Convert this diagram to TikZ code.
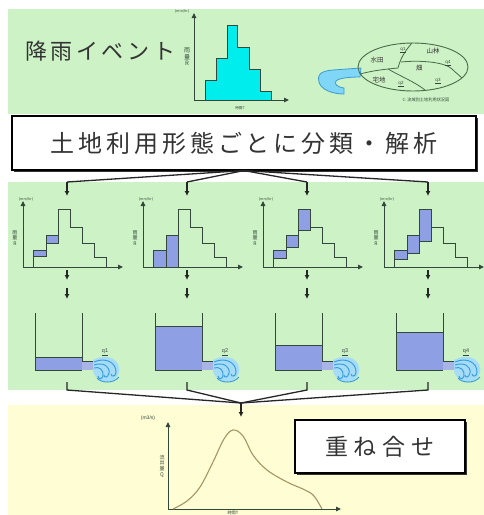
\documentclass[tikz,border=0pt]{standalone}
\usepackage{fontspec}
\setmainfont{Liberation Sans}
\newfontfamily\jp{Noto Sans CJK JP}
\usetikzlibrary{arrows.meta,shadows}

\definecolor{greenbg}{HTML}{CDF2C6}
\definecolor{yellowbg}{HTML}{FFFDD3}
\definecolor{rainfill}{HTML}{00EDED}
\definecolor{inkline}{HTML}{33483A}
\definecolor{waterfill}{HTML}{8E9FE4}
\definecolor{pipefill}{HTML}{A8B4E6}
\definecolor{spraycol}{HTML}{3A9FE0}
\definecolor{spraylight}{HTML}{A6DCF5}
\definecolor{riverfill}{HTML}{7FD6F6}
\definecolor{riverline}{HTML}{3C9CCF}
\definecolor{flowcurve}{HTML}{A49566}
\definecolor{mapline}{HTML}{4A6A4A}

\tikzset{
  axisline/.style={line width=1pt, draw=inkline, -{Triangle[length=5pt,width=4.5pt]}},
  stepline/.style={line width=1pt, draw=inkline},
  slice/.style={draw=inkline, line width=0.8pt, fill=waterfill},
  tankline/.style={draw=inkline, line width=1pt},
  spray/.style={draw=spraycol, line width=1pt},
  conn/.style={draw=black!85, line width=1.3pt},
  connarrow/.style={conn, -{Latex[length=5pt,width=5pt]}},
  bigbox/.style={draw=black, line width=1.1pt, fill=white, inner sep=0pt,
    drop shadow={shadow xshift=1.6pt, shadow yshift=-1.6pt, opacity=1, fill=black!80}},
  tinylabel/.style={font=\jp\fontsize{3.6}{4}\selectfont, text=inkline, inner sep=0pt},
  axlabel/.style={font=\jp\fontsize{5}{5.6}\selectfont, text=inkline, inner sep=0pt, align=center},
  maplabel/.style={font=\jp\fontsize{6.5}{7}\selectfont, text=black!80, inner sep=0pt},
  qlabel/.style={font=\fontsize{5.5}{6}\selectfont, text=inkline, inner sep=0pt},
}

% axes, step outline and labels of a small rainfall chart (local coordinates)
\newcommand\hyetframe{%
  \draw[axisline] (-44,267) -- (56,267);
  \draw[axisline] (-44,267) -- (-44,201);
  \draw[stepline] (-34,267) |- (-21,250) |- (-9,235) |- (3,209) |- (15,227) |- (27,243) |- (39,257) -- (39,267);
  \node[tinylabel] at (-41,199) {(mm/hr)};
  \node[axlabel] at (-52,238) {雨\\量\\R};
}

% storage tank with outlet pipe and spray (local coordinates)
\newcommand\tankdraw[2]{%
  \fill[pipefill] (15,361) rectangle (27,370);
  \fill[waterfill] (-32,#1) rectangle (15,370);
  \draw[tankline] (-32,#1) -- (15,#1);
  \draw[tankline] (-32,313) -- (-32,370) -- (15,370);
  \draw[tankline] (15,313) -- (15,361) -- (27,361);
  \fill[spraylight] (26,360) .. controls (37,354) and (50,357) .. (52,367)
     .. controls (54,377) and (45,383) .. (36,381) .. controls (29,379) and (26,374) .. (26,370) -- cycle;
  \draw[spray] (27,362) .. controls (38,357) and (49,362) .. (49,372) .. controls (49,377) and (44,377) .. (44,374);
  \draw[spray] (27,365) .. controls (36,362) and (43,366) .. (42,373) .. controls (41,378) and (37,378) .. (37,375);
  \draw[spray] (27,368) .. controls (32,366) and (37,370) .. (36,376) .. controls (35,380) and (31,379) .. (31,376);
  \draw[spray] (30,378) .. controls (34,383) and (46,384) .. (52,377);
  \node[qlabel] at (38,352) {\underline{#2}};
}

\begin{document}
\begin{tikzpicture}[x=1pt,y=-1pt]
\useasboundingbox (0,0) rectangle (484,515);
\fill[white] (0,0) rectangle (484,515);

% background panels
\fill[greenbg] (8,9) rectangle (484,114);
\fill[greenbg] (8,182) rectangle (484,390);
\fill[yellowbg] (8,405) rectangle (484,515);

% ---------- rainfall event ----------
\node[anchor=west, inner sep=0pt, font=\jp\fontsize{22}{22}\selectfont, text=black!80] (event) at (25,51)
  {降\kern3.6pt 雨\kern3.6pt イ\kern3.6pt ベ\kern3.6pt ン\kern3.6pt ト};

\fill[rainfill, draw=inkline, line width=1pt]
  (205,100) |- (216,80) |- (227,58) |- (237,25) |- (249,47) |- (260,69) |- (271,91) -- (271,100) -- cycle;
\draw[axisline] (194,100) -- (289,100);
\draw[axisline] (194,100) -- (194,13);
\node[tinylabel] at (182,11) {(mm/hr)};
\node[axlabel, font=\jp\fontsize{6}{6.6}\selectfont] at (187,57) {雨\\量\\R};
\node[tinylabel] at (240,108) {時間T};

% watershed sketch: river and land-use zones
\filldraw[fill=riverfill, draw=riverline, line width=0.8pt]
  (361,68) -- (333,70) .. controls (319,71) and (317,76) .. (319,82)
  .. controls (321,90) and (333,94) .. (344,94) -- (344,88)
  .. controls (337,87) and (334,84) .. (336,81) .. controls (339,78) and (350,77) .. (360,77) -- cycle;
\draw[mapline, line width=0.9pt] (413,67) ellipse [x radius=55, y radius=24];
\draw[mapline, line width=0.8pt] (360,74) .. controls (375,70) and (388,69) .. (398,68);
\draw[mapline, line width=0.8pt] (412,43) .. controls (404,52) and (400,60) .. (398,68);
\draw[mapline, line width=0.8pt] (401,62) .. controls (420,60) and (445,62) .. (452,69) .. controls (456,73) and (459,75) .. (462,78);
\draw[mapline, line width=0.8pt] (388,69) .. controls (400,76) and (415,82) .. (425,90);
\node[maplabel] at (377,60) {水田};
\node[maplabel] at (433,51) {山林};
\node[maplabel] at (419,68) {畑};
\node[maplabel] at (379,80) {宅地};
\node[qlabel, font=\fontsize{4.5}{5}\selectfont] at (403,50) {\underline{q1}};
\node[qlabel, font=\fontsize{4.5}{5}\selectfont] at (448,63) {\underline{q4}};
\node[qlabel, font=\fontsize{4.5}{5}\selectfont] at (438,81) {\underline{q3}};
\node[qlabel, font=\fontsize{4.5}{5}\selectfont] at (401,84) {\underline{q2}};
\node[tinylabel, font=\jp\fontsize{4.2}{5}\selectfont] at (426,100) {C: 流域別土地利用状況図};

% ---------- classification box ----------
\node[bigbox, minimum width=464pt, minimum height=54pt,
      font=\jp\fontsize{24}{24}\selectfont, text=black!80] (classify) at (244,143)
  {土\kern3.9pt 地\kern3.9pt 利\kern3.9pt 用\kern3.9pt 形\kern3.9pt 態\kern3.9pt ご\kern3.9pt と\kern3.9pt に\kern3.9pt 分\kern3.9pt 類\kern3.9pt ・\kern3.9pt 解\kern3.9pt 析};

% ---------- four land-use columns ----------
\foreach \cx/\lvl/\q [count=\n] in {67/357/q1, 187/326/q2, 307/345/q3, 428/332/q4} {
  \begin{scope}[shift={(\cx,0)}]
    \coordinate (top\n) at (0,182);
    \coordinate (in\n) at (0,196);
    \coordinate (cb\n) at (0,270);
    \coordinate (ce\n) at (0,280);
    \coordinate (tb\n) at (0,288);
    \coordinate (te\n) at (0,299);
    \coordinate (out\n) at (0,382);
    \coordinate (bend\n) at (0,390);
    \ifnum\n=1
      \draw[slice] (-34,250) rectangle (-21,256);
      \draw[slice] (-21,235) rectangle (-9,243);
    \fi
    \ifnum\n=2
      \draw[slice] (-34,250) rectangle (-21,267);
      \draw[slice] (-21,235) rectangle (-9,267);
    \fi
    \ifnum\n=3
      \draw[slice] (-34,250) rectangle (-21,258);
      \draw[slice] (-21,235) rectangle (-9,247);
      \draw[slice] (-9,209) rectangle (3,230);
    \fi
    \ifnum\n=4
      \draw[slice] (-34,250) rectangle (-21,259);
      \draw[slice] (-21,235) rectangle (-9,253);
      \draw[slice] (-9,209) rectangle (3,241);
    \fi
    \hyetframe
    \tankdraw{\lvl}{\q}
  \end{scope}
  \draw[conn] (classify.south) -- (top\n);
  \draw[connarrow] (top\n) -- (in\n);
  \draw[connarrow] (cb\n) -- (ce\n);
  \draw[connarrow] (tb\n) -- (te\n);
}

% merge of the four outflows
\coordinate (merge) at (241,403);
\coordinate (mergeend) at (241,417);
\foreach \n in {1,2,3,4} {
  \draw[conn] (out\n) -- (bend\n) -- (merge);
}
\draw[connarrow] (merge) -- (mergeend);

% ---------- combined hydrograph ----------
\draw[axisline] (168,509) -- (341,509);
\draw[axisline] (168,509) -- (168,422);
\draw[flowcurve, line width=1.1pt] plot[smooth, tension=0.6] coordinates
  {(173,509) (187,501) (200,487) (213,462) (224,439) (233,430) (243,436) (253,455) (267,470) (287,482) (305,490) (314,496) (322,509)};
\node[tinylabel, font=\fontsize{5}{5}\selectfont] at (148,418) {(m3/s)};
\node[axlabel] at (162,466) {流\\出\\量\\Q};
\node[tinylabel, font=\jp\fontsize{4.2}{4.5}\selectfont] at (233,512.4) {時間T};

\node[bigbox, minimum width=170pt, minimum height=53pt,
      font=\jp\fontsize{23}{23}\selectfont, text=black!80] (overlay) at (380,446.5)
  {重\kern6pt ね\kern6pt 合\kern6pt せ};

\end{tikzpicture}
\end{document}
